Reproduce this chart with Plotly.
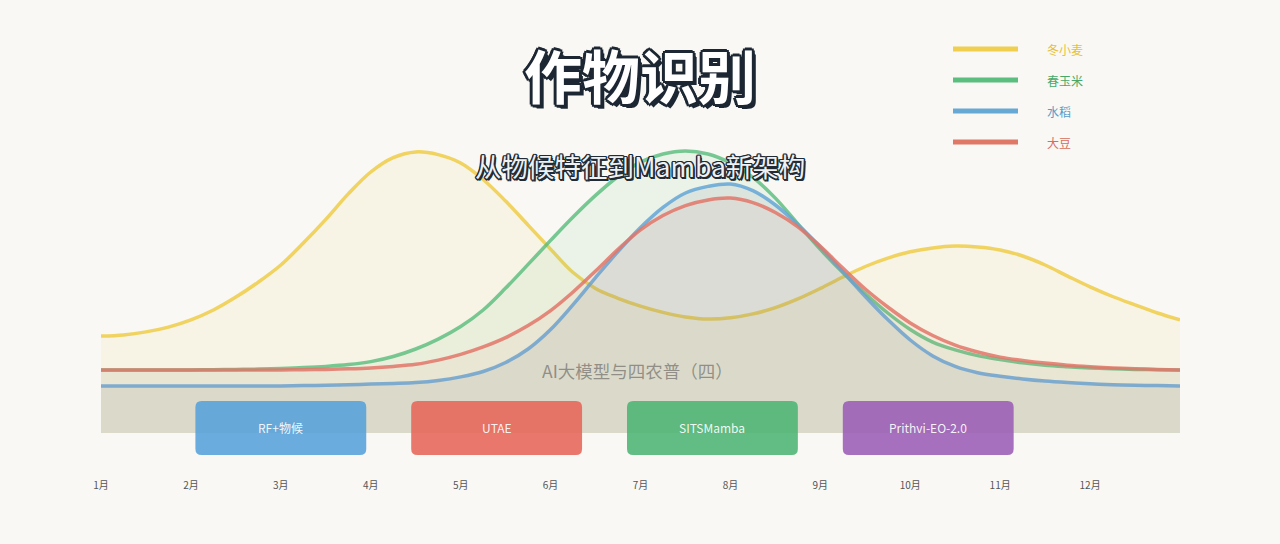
import plotly.graph_objects as go

# month positions (quarter-month steps)
months = [1, 1.25, 1.5, 1.75, 2, 2.25, 2.5, 2.75, 3, 3.25, 3.5, 3.75, 4, 4.25, 4.5, 4.75,
          5, 5.25, 5.5, 5.75, 6, 6.25, 6.5, 6.75, 7, 7.25, 7.5, 7.75, 8, 8.25, 8.5, 8.75,
          9, 9.25, 9.5, 9.75, 10, 10.25, 10.5, 10.75, 11, 11.25, 11.5, 11.75, 12, 12.25, 12.5, 12.75, 13]

wheat = [0.323, 0.327, 0.337, 0.353, 0.377, 0.410, 0.453, 0.503, 0.560, 0.633, 0.712, 0.797, 0.870,
         0.918, 0.937, 0.928, 0.900, 0.845, 0.773, 0.693, 0.613, 0.535, 0.482, 0.449, 0.423, 0.402,
         0.387, 0.380, 0.384, 0.397, 0.418, 0.447, 0.482, 0.520, 0.555, 0.583, 0.604, 0.617, 0.623,
         0.620, 0.610, 0.590, 0.560, 0.523, 0.487, 0.455, 0.427, 0.400, 0.377]
corn = [0.210, 0.210, 0.210, 0.210, 0.210, 0.211, 0.212, 0.213, 0.215, 0.218, 0.222, 0.228, 0.238,
        0.255, 0.280, 0.313, 0.355, 0.410, 0.483, 0.562, 0.642, 0.720, 0.792, 0.855, 0.903, 0.930,
        0.940, 0.930, 0.900, 0.852, 0.783, 0.697, 0.612, 0.535, 0.465, 0.400, 0.345, 0.303, 0.277,
        0.258, 0.245, 0.234, 0.226, 0.221, 0.217, 0.214, 0.212, 0.211, 0.210]
rice = [0.157, 0.157, 0.157, 0.157, 0.157, 0.157, 0.157, 0.157, 0.157, 0.158, 0.159, 0.161, 0.163,
        0.165, 0.168, 0.175, 0.187, 0.205, 0.235, 0.280, 0.345, 0.428, 0.518, 0.605, 0.685, 0.752,
        0.800, 0.822, 0.830, 0.808, 0.760, 0.695, 0.620, 0.538, 0.455, 0.378, 0.310, 0.257, 0.222,
        0.201, 0.189, 0.180, 0.173, 0.168, 0.164, 0.161, 0.159, 0.158, 0.157]
soy = [0.210, 0.210, 0.210, 0.210, 0.210, 0.210, 0.210, 0.210, 0.210, 0.211, 0.212, 0.214, 0.217,
       0.222, 0.229, 0.243, 0.262, 0.287, 0.318, 0.358, 0.408, 0.470, 0.540, 0.612, 0.677, 0.725,
       0.758, 0.777, 0.783, 0.768, 0.735, 0.687, 0.622, 0.550, 0.480, 0.420, 0.367, 0.325, 0.293,
       0.270, 0.253, 0.242, 0.233, 0.226, 0.221, 0.217, 0.214, 0.212, 0.210]

crop_names = ["冬小麦", "春玉米", "水稻", "大豆"]
series = [wheat, corn, rice, soy]

tick_vals = [1, 2, 3, 4, 5, 6, 7, 8, 9, 10, 11, 12]
tick_text = ["1月", "2月", "3月", "4月", "5月", "6月", "7月", "8月", "9月", "10月", "11月", "12月"]

methods = ["RF+物候", "UTAE", "SITSMamba", "Prithvi-EO-2.0"]
method_centers = [3.0, 5.4, 7.8, 10.2]

line_colors = ["rgba(238,204,72,0.85)", "rgba(88,188,124,0.8)", "rgba(100,166,214,0.85)", "rgba(226,118,104,0.85)"]
fill_colors = ["rgba(245,215,130,0.13)", "rgba(80,185,120,0.08)", "rgba(95,115,140,0.11)", "rgba(225,110,95,0.07)"]
legend_line = ["#f0cf4e", "#5bbd7e", "#68a8d4", "#e07868"]
legend_text = ["#e6bf3e", "#48a86a", "#5a9cc8", "#d66e5c"]
box_colors = ["rgba(85,160,218,0.88)", "rgba(230,100,88,0.88)", "rgba(75,180,115,0.88)", "rgba(155,92,182,0.88)"]

BG = "#f9f8f4"
FONT = "Noto Sans CJK SC"

# plot area in pixels: x 101..1180, y 103..478
L, R, T, B = 101, 100, 103, 66
W, H = 1280, 544


def px2x(px):
    return (px - L) / (W - L - R)


def py2y(py):
    return (H - B - py) / (H - T - B)


fig = go.Figure()

for name, ys, lc, fc in zip(crop_names, series, line_colors, fill_colors):
    fig.add_trace(go.Scatter(
        x=months, y=ys, name=name, mode="lines",
        line=dict(color=lc, width=3.5, shape="spline", smoothing=1.0),
        fill="tozeroy", fillcolor=fc, showlegend=False, hoverinfo="skip"))

shapes = []
annotations = []

# method boxes (rounded rectangles)
half_w, y0, y1 = 0.95, -0.073, 0.107
rx, ry = 0.07, 0.02
for m, c, col in zip(methods, method_centers, box_colors):
    a, b = c - half_w, c + half_w
    path = (f"M {a+rx},{y0} L {b-rx},{y0} Q {b},{y0} {b},{y0+ry} L {b},{y1-ry} Q {b},{y1} {b-rx},{y1} "
            f"L {a+rx},{y1} Q {a},{y1} {a},{y1-ry} L {a},{y0+ry} Q {a},{y0} {a+rx},{y0} Z")
    shapes.append(dict(type="path", path=path, xref="x", yref="y", fillcolor=col,
                       line=dict(width=0), layer="above"))
    annotations.append(dict(x=c, y=(y0 + y1) / 2, xref="x", yref="y", text=m, showarrow=False,
                            xanchor="center", yanchor="middle",
                            font=dict(family=FONT, size=12, color="rgba(255,255,255,0.92)")))

# manual legend
for i, (name, lc, tc) in enumerate(zip(crop_names, legend_line, legend_text)):
    yy = py2y(49 + i * 31)
    shapes.append(dict(type="line", xref="paper", yref="paper", x0=px2x(953), x1=px2x(1018),
                       y0=yy, y1=yy, line=dict(color=lc, width=5)))
    annotations.append(dict(x=px2x(1045), y=yy, xref="paper", yref="paper", text=name,
                            showarrow=False, xanchor="left", yanchor="middle",
                            font=dict(family=FONT, size=12, color=tc)))

outline3 = ", ".join(f"{dx}px {dy}px 0 #1c2733" for dx, dy in
                     [(-3, 0), (3, 0), (0, -3), (0, 3), (-2, -2), (2, -2), (-2, 2), (2, 2), (3, 3), (4, 4)])
outline2 = ", ".join(f"{dx}px {dy}px 0 #202b36" for dx, dy in
                     [(-1.5, 0), (1.5, 0), (0, -1.5), (0, 1.5), (-1, -1), (1, -1), (-1, 1), (1, 1), (2, 2)])

annotations.append(dict(x=px2x(640), y=py2y(74), xref="paper", yref="paper", text="<b>作物识别</b>",
                        showarrow=False, xanchor="center", yanchor="middle",
                        font=dict(family=FONT, size=58, color="#ffffff", shadow=outline3)))
annotations.append(dict(x=px2x(640), y=py2y(165), xref="paper", yref="paper", text="从物候特征到Mamba新架构",
                        showarrow=False, xanchor="center", yanchor="middle",
                        font=dict(family=FONT, size=26.5, color="#eef0f2", shadow=outline2)))
annotations.append(dict(x=px2x(637), y=py2y(370), xref="paper", yref="paper", text="AI大模型与四农普（四）",
                        showarrow=False, xanchor="center", yanchor="middle",
                        font=dict(family=FONT, size=17.5, color="rgba(120,118,112,0.75)")))

fig.update_layout(
    width=W, height=H,
    margin=dict(l=L, r=R, t=T, b=B),
    paper_bgcolor=BG, plot_bgcolor=BG,
    shapes=shapes, annotations=annotations,
    xaxis=dict(range=[1, 13], tickvals=tick_vals, ticktext=tick_text, showgrid=False,
               zeroline=False, showline=False, ticks="",
               tickfont=dict(family=FONT, size=10, color="#555555")),
    yaxis=dict(range=[-0.15, 1.1], visible=False, showgrid=False, zeroline=False),
)

fig.write_html("out.html", config={"displayModeBar": False},
               post_script="document.body.style.margin='0';")
